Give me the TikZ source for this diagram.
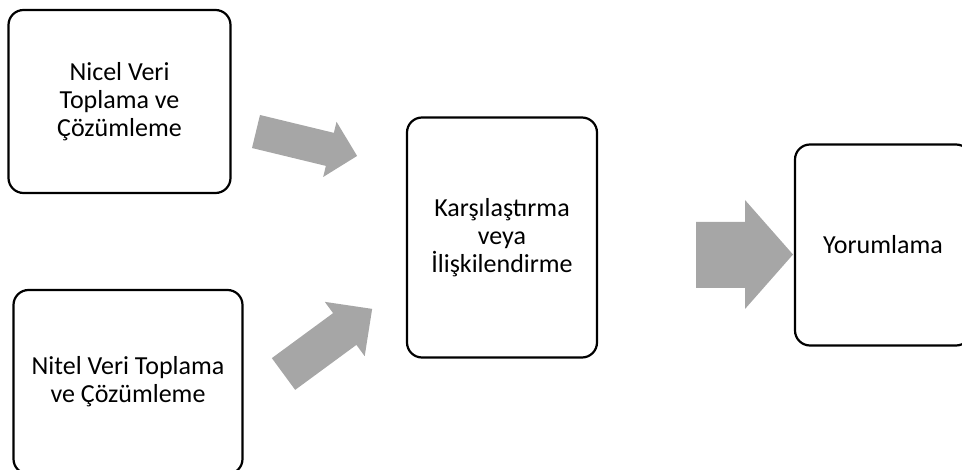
\documentclass[tikz,border=0pt]{standalone}
\usepackage{fontspec}
\setmainfont{Carlito}
\begin{document}
\begin{tikzpicture}[x=1pt,y=-1pt,
  stage/.style={draw=black, line width=2.2pt, rounded corners=15pt, fill=white,
    align=center, inner sep=0pt, font=\fontsize{26}{28}\selectfont},
  flowarrow/.style={fill=arrowgray, draw=none}]
\definecolor{arrowgray}{RGB}{166,166,166}
\useasboundingbox (0,0) rectangle (962,470);

% process stages
\node[stage, minimum width=222pt, minimum height=183pt] (nicel) at (119.5,101.5)
  {Nicel Veri\\Toplama ve\\Çözümleme};
\node[stage, minimum width=229pt, minimum height=184pt] (nitel) at (128,382)
  {Nitel Veri Toplama\\ve Çözümleme};
\node[stage, minimum width=190pt, minimum height=240pt] (karsi) at (502,237.5)
  {Karşılaştırma\\veya\\İlişkilendirme};
\node[stage, minimum width=176pt, minimum height=201pt] (yorum) at (883,245)
  {Yorumlama};

% block arrows between the stages
\fill[flowarrow, shift={(256,131.5)}, rotate=-13.6]
  (0,-17) -- (76,-17) -- (76,-28.4) -- (104,0) -- (76,28.4) -- (76,17) -- (0,17) -- cycle;
\fill[flowarrow, shift={(283.5,374)}, rotate=36.3]
  (0,-19.7) -- (76,-19.7) -- (76,-33.7) -- (110,0) -- (76,33.7) -- (76,19.7) -- (0,19.7) -- cycle;
\fill[flowarrow]
  (696,222) -- (745,222) -- (745,200) -- (793,254.5) -- (745,309) -- (745,288) -- (696,288) -- cycle;
\end{tikzpicture}
\end{document}
